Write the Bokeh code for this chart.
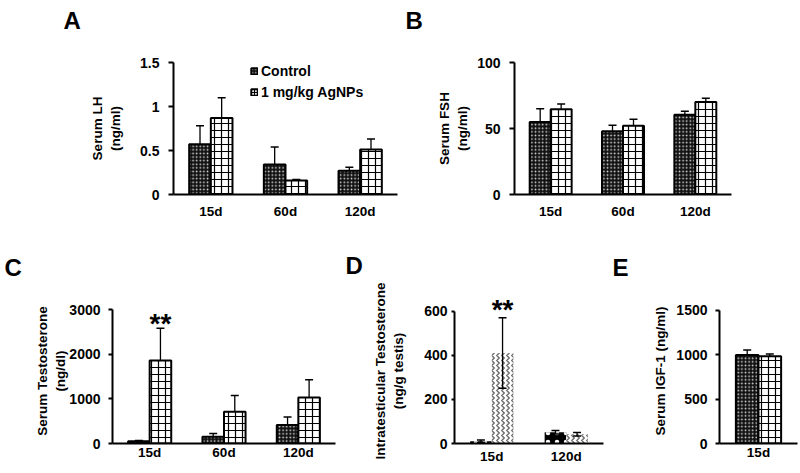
from bokeh.plotting import figure
from bokeh.layouts import row, column
from bokeh.models import (ColumnDataSource, FactorRange, Range1d, FixedTicker,
                          Legend, LegendItem, Title)
from bokeh.transform import dodge
from bokeh.core.properties import value
from bokeh.embed import file_html
from bokeh.resources import INLINE

# ---------------- data ----------------
lh_days = ["15d", "60d", "120d"]
lh_control = [0.57, 0.34, 0.27]
lh_control_err = [0.21, 0.20, 0.04]
lh_agnp = [0.87, 0.16, 0.51]
lh_agnp_err = [0.23, 0.01, 0.12]
lh_sig = ["", "", ""]
lh_ticks = [0, 0.5, 1, 1.5]

fsh_days = ["15d", "60d", "120d"]
fsh_control = [55, 48, 60.5]
fsh_control_err = [10, 4.5, 2.5]
fsh_agnp = [64.5, 52, 70]
fsh_agnp_err = [4, 5, 3]
fsh_sig = ["", "", ""]
fsh_ticks = [0, 50, 100]

t_days = ["15d", "60d", "120d"]
t_control = [50, 150, 415]
t_control_err = [20, 75, 180]
t_agnp = [1860, 710, 1030]
t_agnp_err = [725, 365, 400]
t_sig = ["**", "", ""]
t_ticks = [0, 1000, 2000, 3000]

it_days = ["15d", "120d"]
it_control = [10, 51]
it_control_err = [6, 8]
it_agnp = [411, 42]
it_agnp_err = [160, 8]
it_sig = ["**", ""]
it_ticks = [0, 200, 400, 600]

igf_days = ["15d"]
igf_control = [998]
igf_control_err = [56]
igf_agnp = [983]
igf_agnp_err = [26]
igf_sig = [""]
igf_ticks = [0, 500, 1000, 1500]

FONT = "Liberation Sans"
BAR_W = 0.29
OFF = 0.145


def panel(letter, days, ctrl, ctrl_err, ag, ag_err, sig, ticks, ylabel,
          fig_w, fig_h, bl, fw, bt, fh, ytop, tick_out, tick_standoff,
          label_standoff, x_standoff, sig_offset=0, both_err=False,
          alt_style=False):
    p = figure(x_range=FactorRange(*days), y_range=Range1d(0, ytop),
               width=fig_w, height=fig_h, output_backend="svg",
               toolbar_location=None,
               min_border_left=bl, min_border_right=fig_w - bl - fw,
               min_border_top=bt, min_border_bottom=fig_h - bt - fh)
    p.x_range.range_padding = 0
    p.outline_line_color = None
    p.grid.visible = False
    p.background_fill_color = "white"

    # spacer between frame and the panel letter
    p.add_layout(Title(text=" ", text_font_size="10px", standoff=letter[2]),
                 "above")
    # panel letter as title
    p.title.text = letter[0]
    p.title.align = "left"
    p.title.offset = letter[1] - bl
    p.title.standoff = 0
    p.title.text_font = FONT
    p.title.text_font_style = "bold"
    p.title.text_font_size = "24px"
    p.title.text_color = "black"

    upper_c = [m + e for m, e in zip(ctrl, ctrl_err)]
    upper_a = [m + e for m, e in zip(ag, ag_err)]
    lower_c = [m - e if both_err else m for m, e in zip(ctrl, ctrl_err)]
    lower_a = [m - e if both_err else m for m, e in zip(ag, ag_err)]
    src = ColumnDataSource(dict(day=days, ctrl=ctrl, ag=ag,
                                up_c=upper_c, up_a=upper_a,
                                lo_c=lower_c, lo_a=lower_a, sig=sig))

    xc = dodge("day", -OFF, range=p.x_range)
    xa = dodge("day", OFF, range=p.x_range)

    if alt_style:
        rc = p.vbar(x=xc, top="ctrl", width=BAR_W, source=src,
                    fill_color="black", line_color=None,
                    hatch_pattern="dot", hatch_color="white",
                    hatch_scale=9, hatch_weight=3)
        ra = p.vbar(x=xa, top="ag", width=BAR_W, source=src,
                    fill_color="white", line_color=None,
                    hatch_pattern="vertical_wave", hatch_color="#6e6e6e",
                    hatch_scale=5, hatch_weight=1.4)
    else:
        rc = p.vbar(x=xc, top="ctrl", width=BAR_W, source=src,
                    fill_color="#111111", line_color="black", line_width=2,
                    hatch_pattern="dot", hatch_color="white",
                    hatch_scale=3.6, hatch_weight=1.3, hatch_alpha=0.85)
        ra = p.vbar(x=xa, top="ag", width=BAR_W, source=src,
                    fill_color="white", line_color="black", line_width=2,
                    hatch_pattern="cross", hatch_color="black",
                    hatch_scale=7, hatch_weight=1.2)

    # error bars
    for x, lo, up in ((xc, "lo_c", "up_c"), (xa, "lo_a", "up_a")):
        p.segment(x0=x, y0=lo, x1=x, y1=up, source=src,
                  line_color="black", line_width=1.3)
        p.scatter(x=x, y=up, source=src, marker="dash", size=8,
                  line_color="black", line_width=1.5)
        if both_err:
            p.scatter(x=x, y=lo, source=src, marker="dash", size=8,
                      line_color="black", line_width=1.5)

    # significance marks
    p.text(x=xa, y="up_a", text="sig", source=src, text_align="center",
           text_baseline="alphabetic", y_offset=sig_offset,
           text_font=value(FONT), text_font_style="bold",
           text_font_size="28px", text_color="black")

    # axes
    ya = p.yaxis[0]
    ya.ticker = FixedTicker(ticks=ticks)
    ya.major_label_overrides = {t: f"{t:g}" for t in ticks}
    ya.bounds = (0, ticks[-1])
    ya.axis_line_width = 2
    ya.axis_line_color = "black"
    ya.major_tick_line_width = 2
    ya.major_tick_out = tick_out
    ya.major_tick_in = 0
    ya.minor_tick_line_color = None
    ya.major_label_standoff = tick_standoff
    ya.major_label_text_font = FONT
    ya.major_label_text_font_style = "bold"
    ya.major_label_text_font_size = "14px"
    ya.major_label_text_color = "black"
    ya.axis_label = ylabel
    ya.axis_label_standoff = label_standoff
    ya.axis_label_text_font = FONT
    ya.axis_label_text_font_style = "bold"
    ya.axis_label_text_font_size = "13.5px"
    ya.axis_label_text_color = "black"

    xa_ax = p.xaxis[0]
    xa_ax.axis_line_width = 2
    xa_ax.axis_line_color = "black"
    xa_ax.major_tick_line_color = None
    xa_ax.minor_tick_line_color = None
    xa_ax.major_label_standoff = x_standoff
    xa_ax.major_label_text_font = FONT
    xa_ax.major_label_text_font_style = "bold"
    xa_ax.major_label_text_font_size = "13.5px"
    xa_ax.major_label_text_color = "black"
    return p, rc, ra


pA, rcA, raA = panel(("A", 63, 16), lh_days, lh_control, lh_control_err,
                     lh_agnp, lh_agnp_err, lh_sig, lh_ticks,
                     "Serum LH\n(ng/ml)",
                     400, 230, 173, 224, 62, 132, 1.5, 5, 9, 14, 3)
legend = Legend(items=[LegendItem(label="Control", renderers=[rcA]),
                       LegendItem(label="1 mg/kg AgNPs", renderers=[raA])],
                location=(77, 94), border_line_color=None,
                background_fill_alpha=0, padding=0, margin=0, spacing=5,
                glyph_width=8, glyph_height=8, label_standoff=3,
                label_height=14, label_text_font=FONT,
                label_text_font_style="bold", label_text_font_size="14px",
                label_text_color="black")
pA.add_layout(legend)

pB, _, _ = panel(("B", 5, 16), fsh_days, fsh_control, fsh_control_err,
                 fsh_agnp, fsh_agnp_err, fsh_sig, fsh_ticks,
                 "Serum FSH\n(ng/ml)",
                 400, 230, 114, 217, 62, 132, 100, 5, 9, 4, 3)

pC, _, _ = panel(("C", 4, 5), t_days, t_control, t_control_err,
                 t_agnp, t_agnp_err, t_sig, t_ticks,
                 "Serum Testosterone\n(ng/dl)",
                 345, 242, 112, 223, 68, 145, 3254, 4, 8, -2, -5,
                 sig_offset=-5)

pD, _, _ = panel(("D", 0, 7), it_days, it_control, it_control_err,
                 it_agnp, it_agnp_err, it_sig, it_ticks,
                 "Intratesticular Testosterone\n(ng/g testis)",
                 265, 242, 109, 149, 68, 145, 659, 3, 4, 15, -1,
                 sig_offset=-8, both_err=True, alt_style=True)

pE, _, _ = panel(("E", 2, 5), igf_days, igf_control, igf_control_err,
                 igf_agnp, igf_agnp_err, igf_sig, igf_ticks,
                 "Serum IGF-1 (ng/ml)",
                 190, 242, 109, 78, 68, 145, 1635, 4, 8, 5, -5)

layout = column(row(pA, pB), row(pC, pD, pE))

with open("out.html", "w") as f:
    f.write(file_html(layout, INLINE))
